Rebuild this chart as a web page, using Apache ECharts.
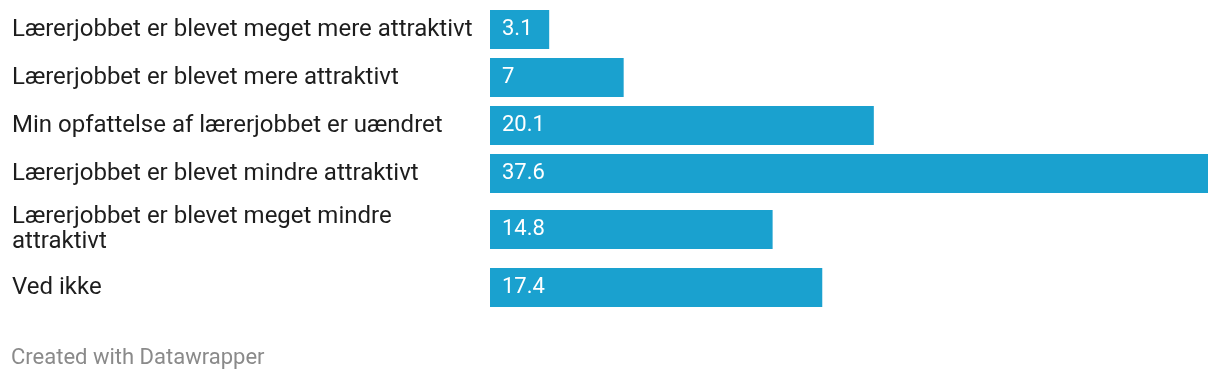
<!DOCTYPE html>
<html>
<head>
<meta charset="utf-8">
<script src="https://cdn.jsdelivr.net/npm/echarts@6/dist/echarts.min.js"></script>
<style>
  html, body { margin: 0; padding: 0; background: #ffffff; }
  #chart { width: 1220px; height: 384px; }
</style>
</head>
<body>
<div id="chart"></div>
<script>
const categories = [
  "Lærerjobbet er blevet meget mere attraktivt",
  "Lærerjobbet er blevet mere attraktivt",
  "Min opfattelse af lærerjobbet er uændret",
  "Lærerjobbet er blevet mindre attraktivt",
  "Lærerjobbet er blevet meget mindre attraktivt",
  "Ved ikke"
];
const values = [3.1, 7, 20.1, 37.6, 14.8, 17.4];
const footer = "Created with Datawrapper";

const groups = [[0, 4], [4, 6]];
const gridPos = [
  { top: 5.5, height: 192 },
  { top: 200.5, height: 116 }
];
const maxVal = Math.max(...values);

const chart = echarts.init(document.getElementById('chart'), null, { renderer: 'canvas' });
const font = 'Roboto, "Noto Sans", sans-serif';

const option = {
  backgroundColor: '#ffffff',
  animation: false,
  graphic: [{
    type: 'text', left: 11, top: 347,
    style: { text: footer, fill: '#8a8a8a', font: '22px ' + font }
  }],
  grid: groups.map((g, i) => ({ left: 490, right: 12, top: gridPos[i].top, height: gridPos[i].height, containLabel: false })),
  xAxis: groups.map((g, i) => ({
    type: 'value', gridIndex: i, min: 0, max: maxVal, show: false
  })),
  yAxis: groups.map((g, i) => ({
    type: 'category', gridIndex: i, inverse: true,
    data: categories.slice(g[0], g[1]),
    axisLine: { show: false }, axisTick: { show: false }, splitLine: { show: false },
    axisLabel: {
      align: 'left', margin: 478, color: '#1d1d1d', fontSize: 24, fontFamily: font,
      width: 472, overflow: 'break', lineHeight: 25
    }
  })),
  series: groups.map((g, i) => ({
    type: 'bar', xAxisIndex: i, yAxisIndex: i,
    data: values.slice(g[0], g[1]),
    barWidth: 39,
    itemStyle: { color: '#1aa1cf' },
    label: {
      show: true, position: 'insideLeft', distance: 12,
      color: '#ffffff', fontSize: 22, fontFamily: font
    }
  }))
};
chart.setOption(option);
</script>
</body>
</html>
